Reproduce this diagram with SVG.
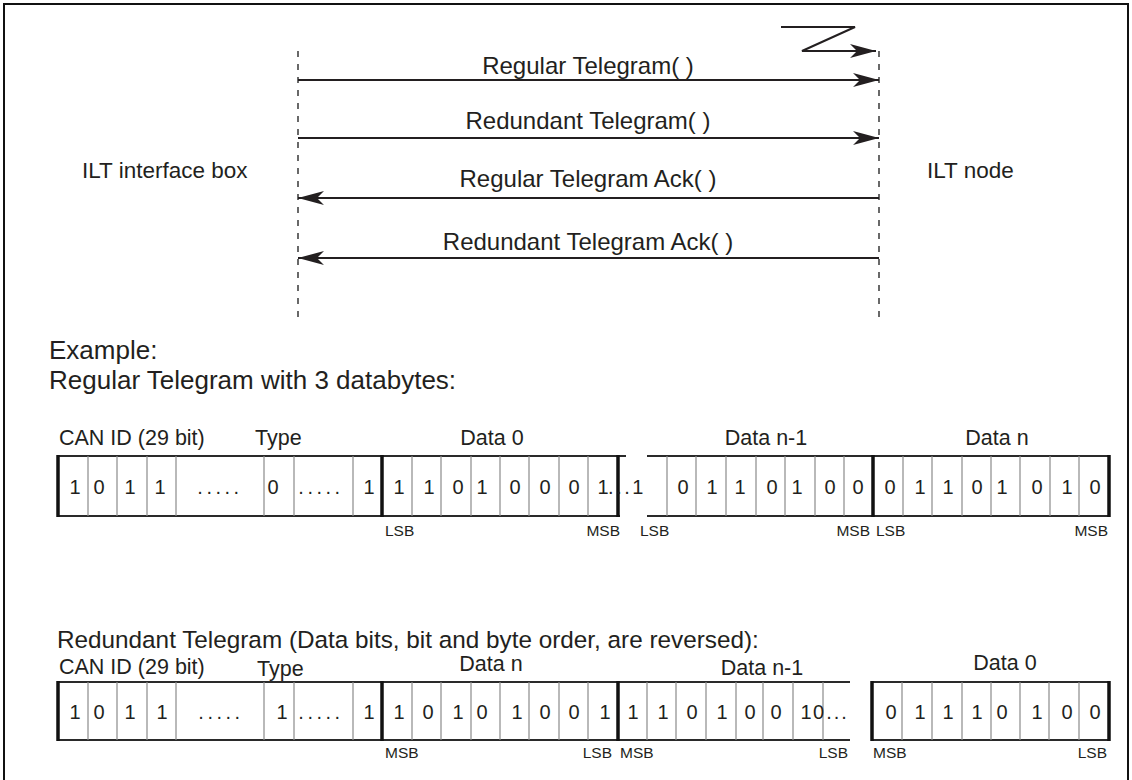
<svg xmlns="http://www.w3.org/2000/svg" width="1132" height="780" viewBox="0 0 1132 780">
  <style>
    text { font-family: "Liberation Sans", Arial, sans-serif; fill: #231f20; }
    .msg { font-size: 24px; text-anchor: middle; }
    .actor { font-size: 22.5px; }
    .title { font-size: 26px; }
    .title.sub { font-size: 24.3px; }
    .hdr { font-size: 21.5px; }
    .bit { font-size: 20px; text-anchor: middle; }
    .ord { font-size: 15.5px; }
    .lifeline { stroke: #444; stroke-width: 1.6; stroke-dasharray: 6 7; fill: none; }
    .msgline { stroke: #231f20; stroke-width: 2; fill: none; }
    .edge { stroke: #2a2a2a; stroke-width: 2; fill: none; }
    .cell { stroke: #8a8a8a; stroke-width: 1.2; }
    .byte { stroke: #111; stroke-width: 3.5; }
  </style>
  <defs>
    <marker id="head" viewBox="0 0 26 14" refX="26" refY="7" markerWidth="26" markerHeight="14" markerUnits="userSpaceOnUse" orient="auto">
      <path d="M0,0 L26,7 L0,14 L7,7 Z" fill="#231f20"/>
    </marker>
  </defs>

  <!-- page frame -->
  <rect x="4" y="4" width="1124" height="790" fill="#fff" stroke="#111" stroke-width="2"/>

  <!-- participants -->
  <g id="ilt-interface-box">
    <line class="lifeline" x1="298" y1="51" x2="298" y2="318"/>
    <text class="actor" x="82" y="178">ILT interface box</text>
  </g>
  <g id="ilt-node">
    <line class="lifeline" x1="879" y1="51" x2="879" y2="318"/>
    <text class="actor" x="927" y="178">ILT node</text>
  </g>

  <!-- messages -->
  <g id="messages">
    <polyline class="msgline" points="781,27 855,27 802,51 876,51" marker-end="url(#head)"/>
    <line class="msgline" x1="298" y1="80" x2="879" y2="80" marker-end="url(#head)"/>
    <text class="msg" x="588" y="74">Regular Telegram( )</text>
    <line class="msgline" x1="298" y1="138" x2="879" y2="138" marker-end="url(#head)"/>
    <text class="msg" x="588" y="129">Redundant Telegram( )</text>
    <line class="msgline" x1="879" y1="198" x2="298" y2="198" marker-end="url(#head)"/>
    <text class="msg" x="588" y="187">Regular Telegram Ack( )</text>
    <line class="msgline" x1="879" y1="258" x2="298" y2="258" marker-end="url(#head)"/>
    <text class="msg" x="588" y="250">Redundant Telegram Ack( )</text>
  </g>

  <!-- example captions -->
  <text class="title" x="49" y="359">Example:</text>
  <text class="title" x="49" y="389">Regular Telegram with 3 databytes:</text>
  <text class="title sub" x="57" y="648">Redundant Telegram (Data bits, bit and byte order, are reversed):</text>

  <!-- regular telegram frame -->
  <g id="regular-telegram">
    <text class="hdr" x="59" y="445">CAN ID (29 bit)</text>
    <text class="hdr" x="255" y="445">Type</text>
    <text class="hdr" x="492" y="445" text-anchor="middle">Data 0</text>
    <text class="hdr" x="766" y="445" text-anchor="middle">Data n-1</text>
    <text class="hdr" x="997" y="445" text-anchor="middle">Data n</text>

    <line class="edge" x1="58" y1="456" x2="626" y2="456"/>
    <line class="edge" x1="58" y1="516" x2="620" y2="516"/>
    <line class="edge" x1="647" y1="456" x2="1109" y2="456"/>
    <line class="edge" x1="647" y1="516" x2="1109" y2="516"/>

    <g class="cell">
      <line x1="88" y1="456" x2="88" y2="516"/>
      <line x1="117" y1="456" x2="117" y2="516"/>
      <line x1="147" y1="456" x2="147" y2="516"/>
      <line x1="176" y1="456" x2="176" y2="516"/>
      <line x1="264" y1="456" x2="264" y2="516"/>
      <line x1="294" y1="456" x2="294" y2="516"/>
      <line x1="353" y1="456" x2="353" y2="516"/>
      <line x1="412" y1="456" x2="412" y2="516"/>
      <line x1="441" y1="456" x2="441" y2="516"/>
      <line x1="471" y1="456" x2="471" y2="516"/>
      <line x1="500" y1="456" x2="500" y2="516"/>
      <line x1="529" y1="456" x2="529" y2="516"/>
      <line x1="559" y1="456" x2="559" y2="516"/>
      <line x1="588" y1="456" x2="588" y2="516"/>
      <line x1="667" y1="456" x2="667" y2="516"/>
      <line x1="696" y1="456" x2="696" y2="516"/>
      <line x1="726" y1="456" x2="726" y2="516"/>
      <line x1="756" y1="456" x2="756" y2="516"/>
      <line x1="785" y1="456" x2="785" y2="516"/>
      <line x1="815" y1="456" x2="815" y2="516"/>
      <line x1="844" y1="456" x2="844" y2="516"/>
      <line x1="903" y1="456" x2="903" y2="516"/>
      <line x1="932" y1="456" x2="932" y2="516"/>
      <line x1="962" y1="456" x2="962" y2="516"/>
      <line x1="991" y1="456" x2="991" y2="516"/>
      <line x1="1020" y1="456" x2="1020" y2="516"/>
      <line x1="1050" y1="456" x2="1050" y2="516"/>
      <line x1="1079" y1="456" x2="1079" y2="516"/>
    </g>
    <g class="byte">
      <line x1="58" y1="455" x2="58" y2="517"/>
      <line x1="382" y1="455" x2="382" y2="517"/>
      <line x1="618" y1="455" x2="618" y2="517"/>
      <line x1="873" y1="455" x2="873" y2="517"/>
      <line x1="1109" y1="455" x2="1109" y2="517"/>
    </g>

    <text class="bit" x="75" y="494">1</text>
    <text class="bit" x="99" y="494">0</text>
    <text class="bit" x="130" y="494">1</text>
    <text class="bit" x="160" y="494">1</text>
    <text class="bit" x="220" y="494" letter-spacing="3.5">.....</text>
    <text class="bit" x="273" y="494">0</text>
    <text class="bit" x="321" y="494" letter-spacing="3.5">.....</text>
    <text class="bit" x="369" y="494">1</text>

    <text class="bit" x="399" y="494">1</text>
    <text class="bit" x="429" y="494">1</text>
    <text class="bit" x="458" y="494">0</text>
    <text class="bit" x="482" y="494">1</text>
    <text class="bit" x="515" y="494">0</text>
    <text class="bit" x="545" y="494">0</text>
    <text class="bit" x="574" y="494">0</text>
    <text class="bit" x="603" y="494">1</text>

    <text class="bit" x="627" y="494" text-anchor="start" letter-spacing="2.5">...1</text>
    <text class="bit" x="683" y="494">0</text>
    <text class="bit" x="712" y="494">1</text>
    <text class="bit" x="740" y="494">1</text>
    <text class="bit" x="772" y="494">0</text>
    <text class="bit" x="797" y="494">1</text>
    <text class="bit" x="830" y="494">0</text>
    <text class="bit" x="858" y="494">0</text>

    <text class="bit" x="890" y="494">0</text>
    <text class="bit" x="920" y="494">1</text>
    <text class="bit" x="948" y="494">1</text>
    <text class="bit" x="977" y="494">0</text>
    <text class="bit" x="1002" y="494">1</text>
    <text class="bit" x="1037" y="494">0</text>
    <text class="bit" x="1067" y="494">1</text>
    <text class="bit" x="1095" y="494">0</text>

    <text class="ord" x="385" y="536">LSB</text>
    <text class="ord" x="620" y="536" text-anchor="end">MSB</text>
    <text class="ord" x="640" y="536">LSB</text>
    <text class="ord" x="870" y="536" text-anchor="end">MSB</text>
    <text class="ord" x="876" y="536">LSB</text>
    <text class="ord" x="1108" y="536" text-anchor="end">MSB</text>
  </g>

  <!-- redundant telegram frame -->
  <g id="redundant-telegram">
    <text class="hdr" x="59" y="674">CAN ID (29 bit)</text>
    <text class="hdr" x="257" y="676">Type</text>
    <text class="hdr" x="491" y="671" text-anchor="middle">Data n</text>
    <text class="hdr" x="762" y="675" text-anchor="middle">Data n-1</text>
    <text class="hdr" x="1005" y="670" text-anchor="middle">Data 0</text>

    <line class="edge" x1="58" y1="682" x2="850" y2="682"/>
    <line class="edge" x1="58" y1="740" x2="850" y2="740"/>
    <line class="edge" x1="872" y1="682" x2="1109" y2="682"/>
    <line class="edge" x1="872" y1="740" x2="1109" y2="740"/>

    <g class="cell">
      <line x1="88" y1="682" x2="88" y2="740"/>
      <line x1="117" y1="682" x2="117" y2="740"/>
      <line x1="147" y1="682" x2="147" y2="740"/>
      <line x1="176" y1="682" x2="176" y2="740"/>
      <line x1="264" y1="682" x2="264" y2="740"/>
      <line x1="294" y1="682" x2="294" y2="740"/>
      <line x1="353" y1="682" x2="353" y2="740"/>
      <line x1="412" y1="682" x2="412" y2="740"/>
      <line x1="441" y1="682" x2="441" y2="740"/>
      <line x1="471" y1="682" x2="471" y2="740"/>
      <line x1="500" y1="682" x2="500" y2="740"/>
      <line x1="529" y1="682" x2="529" y2="740"/>
      <line x1="559" y1="682" x2="559" y2="740"/>
      <line x1="588" y1="682" x2="588" y2="740"/>
      <line x1="647" y1="682" x2="647" y2="740"/>
      <line x1="676" y1="682" x2="676" y2="740"/>
      <line x1="706" y1="682" x2="706" y2="740"/>
      <line x1="736" y1="682" x2="736" y2="740"/>
      <line x1="763" y1="682" x2="763" y2="740"/>
      <line x1="793" y1="682" x2="793" y2="740"/>
      <line x1="823" y1="682" x2="823" y2="740"/>
      <line x1="902" y1="682" x2="902" y2="740"/>
      <line x1="932" y1="682" x2="932" y2="740"/>
      <line x1="962" y1="682" x2="962" y2="740"/>
      <line x1="991" y1="682" x2="991" y2="740"/>
      <line x1="1020" y1="682" x2="1020" y2="740"/>
      <line x1="1049" y1="682" x2="1049" y2="740"/>
      <line x1="1079" y1="682" x2="1079" y2="740"/>
    </g>
    <g class="byte">
      <line x1="58" y1="681" x2="58" y2="741"/>
      <line x1="382" y1="681" x2="382" y2="741"/>
      <line x1="618" y1="681" x2="618" y2="741"/>
      <line x1="872" y1="681" x2="872" y2="741"/>
      <line x1="1109" y1="681" x2="1109" y2="741"/>
    </g>

    <text class="bit" x="75" y="719">1</text>
    <text class="bit" x="99" y="719">0</text>
    <text class="bit" x="130" y="719">1</text>
    <text class="bit" x="162" y="719">1</text>
    <text class="bit" x="221" y="719" letter-spacing="3.5">.....</text>
    <text class="bit" x="282" y="719">1</text>
    <text class="bit" x="321" y="719" letter-spacing="3.5">.....</text>
    <text class="bit" x="369" y="719">1</text>

    <text class="bit" x="399" y="719">1</text>
    <text class="bit" x="428" y="719">0</text>
    <text class="bit" x="458" y="719">1</text>
    <text class="bit" x="482" y="719">0</text>
    <text class="bit" x="517" y="719">1</text>
    <text class="bit" x="545" y="719">0</text>
    <text class="bit" x="574" y="719">0</text>
    <text class="bit" x="605" y="719">1</text>

    <text class="bit" x="633" y="719">1</text>
    <text class="bit" x="663" y="719">1</text>
    <text class="bit" x="692" y="719">0</text>
    <text class="bit" x="722" y="719">1</text>
    <text class="bit" x="750" y="719">0</text>
    <text class="bit" x="776" y="719">0</text>
    <text class="bit" x="806" y="719">1</text>
    <text class="bit" x="831" y="719" text-anchor="start" letter-spacing="2">0...</text>

    <text class="bit" x="891" y="719">0</text>
    <text class="bit" x="920" y="719">1</text>
    <text class="bit" x="948" y="719">1</text>
    <text class="bit" x="977" y="719">1</text>
    <text class="bit" x="1002" y="719">0</text>
    <text class="bit" x="1037" y="719">1</text>
    <text class="bit" x="1067" y="719">0</text>
    <text class="bit" x="1095" y="719">0</text>

    <text class="ord" x="385" y="758">MSB</text>
    <text class="ord" x="612" y="758" text-anchor="end">LSB</text>
    <text class="ord" x="620" y="758">MSB</text>
    <text class="ord" x="848" y="758" text-anchor="end">LSB</text>
    <text class="ord" x="873" y="758">MSB</text>
    <text class="ord" x="1107" y="758" text-anchor="end">LSB</text>
  </g>
</svg>
